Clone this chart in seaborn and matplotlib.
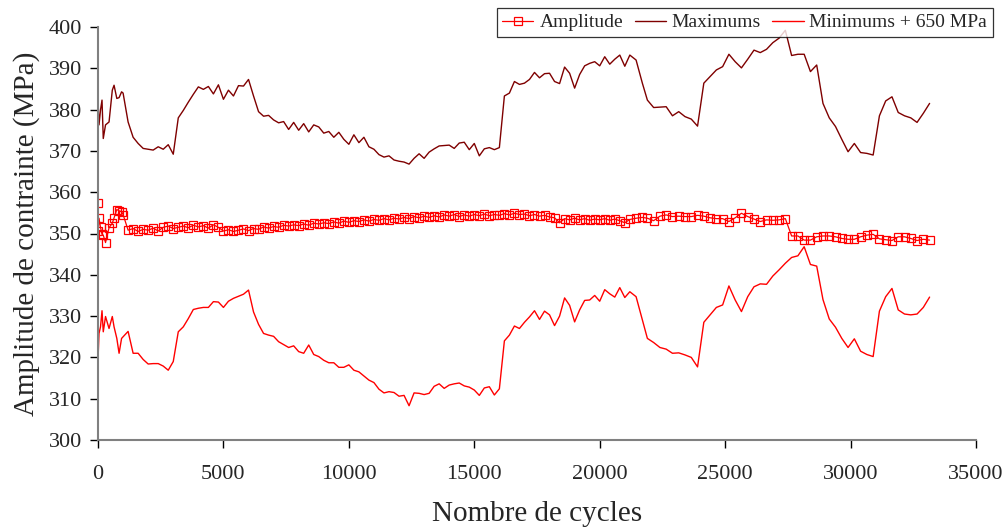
import matplotlib

matplotlib.use("Agg")

import matplotlib.pyplot as plt
import pandas as pd
import seaborn as sns


# nombre de cycles (points denses au debut, puis tous les 200 cycles, puis tous les 250)
CYCLES = [
    0, 10, 40, 100, 160, 210, 300, 440, 570, 640, 750, 840, 940,
    1000, 1200, 1400, 1600, 1800, 2000, 2200, 2400, 2600, 2800,
    3000, 3200, 3400, 3600, 3800, 4000, 4200, 4400, 4600, 4800,
    5000, 5200, 5400, 5600, 5800, 6000, 6200, 6400, 6600, 6800,
    7000, 7200, 7400, 7600, 7800, 8000, 8200, 8400, 8600, 8800,
    9000, 9200, 9400, 9600, 9800, 10000, 10200, 10400, 10600, 10800,
    11000, 11200, 11400, 11600, 11800, 12000, 12200, 12400, 12600, 12800,
    13000, 13200, 13400, 13600, 13800, 14000, 14200, 14400, 14600, 14800,
    15000, 15200, 15400, 15600, 15800, 16000, 16200, 16400, 16600, 16800,
    17000, 17200, 17400, 17600, 17800, 18000, 18200, 18400, 18600, 18800,
    19000, 19200, 19400, 19600, 19800, 20000, 20200, 20400, 20600, 20800,
    21000, 21200, 21450, 21700, 21900, 22150, 22400, 22650, 22900, 23150,
    23400, 23650, 23900, 24150, 24400, 24650, 24900, 25150, 25400, 25650,
    25900, 26150, 26400, 26650, 26900, 27150, 27400, 27650, 27900, 28150,
    28400, 28650, 28900, 29150, 29400, 29650, 29900, 30150, 30400, 30650,
    30900, 31150, 31400, 31650, 31900, 32150, 32400, 32650, 32900, 33150,
]

AMPLITUDE = [
    357.3, 350.5, 353.7, 351.5, 349.8, 349.6, 347.8, 351.4, 352.5, 353.8, 355.8, 355.5, 355.3,
    354.6, 350.8, 351.2, 350.5, 351.0, 350.8, 351.3, 350.6, 351.5, 351.8,
    351.2, 351.5, 351.8, 351.4, 352.0, 351.6, 351.9, 351.3, 352.1, 351.5,
    350.6, 350.9, 350.5, 350.8, 351.1, 350.7, 351.2, 351.0, 351.6, 351.3,
    351.7, 351.5, 352.0, 351.8, 352.1, 351.9, 352.3, 352.0, 352.5, 352.3,
    352.6, 352.4, 352.8, 352.5, 353.0, 352.7, 353.1, 352.9, 353.3, 353.0,
    353.4, 353.2, 353.6, 353.3, 353.7, 353.5, 353.9, 353.6, 354.1, 353.8,
    354.2, 353.9, 354.3, 354.0, 354.5, 354.2, 354.6, 354.1, 354.5, 354.2,
    354.6, 354.3, 354.7, 354.3, 354.6, 354.4, 354.8, 354.5, 354.9, 354.6,
    354.7, 354.3, 354.6, 354.2, 354.4, 354.0, 353.8, 352.6, 353.6, 353.3,
    353.7, 353.3, 353.6, 353.2, 353.5, 353.3, 353.6, 353.2, 353.5, 353.1,
    352.6, 353.4, 353.7, 353.9, 353.7, 353.1, 354.2, 354.5, 354.1, 354.2,
    354.1, 354.1, 354.4, 354.2, 353.8, 353.6, 353.6, 352.9, 353.8, 354.9,
    354.1, 353.5, 352.9, 353.3, 353.2, 353.3, 353.6, 349.4, 349.4, 348.4,
    348.4, 349.2, 349.4, 349.4, 349.2, 348.8, 348.6, 348.6, 349.2, 349.6,
    349.8, 348.7, 348.5, 348.3, 349.2, 349.2, 348.8, 348.3, 348.6, 348.4,
]

MAXIMUMS = [
    358.0, 381.0, 376.3, 379.9, 382.3, 373.0, 376.3, 377.0, 384.7, 385.9, 382.7, 382.9, 384.3,
    384.0, 377.0, 373.3, 371.8, 370.6, 370.4, 370.2, 371.0, 370.4, 371.5,
    369.2, 378.0, 379.8, 381.8, 383.7, 385.5, 384.9, 385.6, 383.8, 386.0,
    382.5, 384.7, 383.3, 385.8, 385.7, 387.3, 383.3, 379.5, 378.4, 378.6,
    377.5, 376.8, 377.1, 375.2, 376.9, 375.0, 376.6, 374.6, 376.3, 375.8,
    374.3, 374.7, 373.3, 374.5, 372.8, 371.6, 373.9, 372.0, 373.3, 371.0,
    370.4, 369.1, 368.5, 368.8, 367.8, 367.5, 367.3, 366.8, 368.2, 369.3,
    368.2, 369.7, 370.5, 371.2, 371.3, 371.4, 370.6, 371.9, 372.1, 370.3,
    371.8, 368.8, 370.5, 370.8, 370.3, 370.8, 383.3, 384.0, 386.8, 386.1,
    386.4, 387.3, 389.0, 387.7, 388.7, 388.8, 386.8, 386.3, 390.3, 388.8,
    385.2, 388.5, 390.6, 391.2, 391.6, 390.6, 392.8, 391.0, 392.2, 393.2,
    390.5, 393.2, 392.0, 386.4, 382.3, 380.5, 380.6, 380.7, 378.5, 379.5,
    378.3, 377.7, 376.0, 386.4, 388.0, 389.6, 390.4, 393.4, 391.6, 390.1,
    392.2, 394.4, 393.8, 394.6, 396.2, 397.3, 399.2, 393.1, 393.4, 393.4,
    389.2, 390.8, 381.5, 378.0, 375.9, 372.8, 369.8, 371.8, 369.6, 369.4,
    369.0, 378.5, 382.1, 383.1, 379.3, 378.5, 378.0, 376.9, 379.1, 381.5,
]

MINIMUMS_650 = [
    309.5, 321.0, 325.8, 327.4, 331.3, 326.2, 329.9, 327.0, 329.9, 327.4, 324.6, 321.0, 324.6,
    325.0, 326.3, 321.0, 321.0, 319.5, 318.4, 318.5, 318.5, 317.9, 316.9,
    319.0, 326.2, 327.4, 329.4, 331.6, 331.9, 332.1, 332.1, 333.5, 333.4,
    332.1, 333.6, 334.3, 334.8, 335.3, 336.3, 331.0, 328.0, 325.8, 325.4,
    325.1, 323.8, 323.1, 322.4, 322.8, 321.4, 321.0, 323.0, 320.7, 320.2,
    319.3, 318.7, 318.7, 317.6, 317.6, 318.2, 316.9, 316.5, 315.5, 314.5,
    313.9, 312.3, 311.4, 311.7, 311.5, 310.6, 310.8, 308.3, 311.4, 311.3,
    311.0, 311.3, 313.0, 313.6, 312.5, 313.3, 313.6, 313.8, 313.1, 312.8,
    312.1, 310.8, 312.6, 312.9, 310.9, 312.4, 324.0, 325.4, 327.6, 327.0,
    328.5, 329.8, 331.3, 329.2, 331.2, 330.3, 327.7, 330.0, 334.4, 332.6,
    328.6, 331.5, 333.8, 333.9, 335.0, 333.6, 336.4, 335.4, 334.6, 336.9,
    334.5, 335.9, 334.7, 329.1, 324.6, 323.6, 322.4, 322.0, 321.0, 321.1,
    320.6, 320.0, 317.7, 328.5, 330.3, 332.1, 332.7, 337.3, 333.9, 331.1,
    334.7, 337.1, 337.8, 337.7, 339.7, 341.2, 342.8, 344.2, 344.6, 346.8,
    342.5, 342.1, 334.0, 329.3, 327.3, 324.6, 322.4, 324.5, 321.5, 320.7,
    320.2, 331.2, 334.7, 336.7, 331.5, 330.5, 330.3, 330.5, 332.1, 334.6,
]

X_TICKS = [0, 5000, 10000, 15000, 20000, 25000, 30000, 35000]
Y_TICKS = [300, 310, 320, 330, 340, 350, 360, 370, 380, 390, 400]

RED = "#ff0000"
DARK_RED = "#7f0000"
GREY = "#808080"


def main() -> None:
    sns.set_theme(style="white")
    plt.rcParams["font.family"] = ["Liberation Serif", "DejaVu Serif"]

    df = pd.DataFrame(
        {
            "cycles": CYCLES,
            "amplitude": AMPLITUDE,
            "maximums": MAXIMUMS,
            "minimums": MINIMUMS_650,
        }
    )

    fig = plt.figure(figsize=(10.06, 5.28), dpi=100)
    ax = fig.add_axes([98 / 1006, 1 - 440 / 528, 878 / 1006, 413 / 528])

    sns.lineplot(
        data=df, x="cycles", y="amplitude", ax=ax, estimator=None, sort=False,
        color=RED, linewidth=0.9, marker="s", markersize=6,
        markerfacecolor="none", markeredgecolor=RED, markeredgewidth=0.9,
        label="Amplitude",
    )
    sns.lineplot(
        data=df, x="cycles", y="maximums", ax=ax, estimator=None, sort=False,
        color=DARK_RED, linewidth=1.0, label="Maximums",
    )
    sns.lineplot(
        data=df, x="cycles", y="minimums", ax=ax, estimator=None, sort=False,
        color=RED, linewidth=1.0, label="Minimums + 650 MPa",
    )

    ax.set_xlim(0, 35000)
    ax.set_ylim(300, 400)
    ax.set_xticks(X_TICKS)
    ax.set_yticks(Y_TICKS)
    ax.tick_params(axis="x", direction="out", length=5.5, width=1, color="black",
                   labelsize=16, pad=12.5, bottom=True)
    ax.tick_params(axis="y", direction="out", length=5.5, width=1, color="black",
                   labelsize=16, pad=6, left=True)

    for side in ["top", "right"]:
        ax.spines[side].set_visible(False)
    for side in ["left", "bottom"]:
        ax.spines[side].set_color(GREY)
        ax.spines[side].set_linewidth(1.5)

    ax.set_xlabel("Nombre de cycles", fontsize=21, labelpad=12)
    ax.set_ylabel("Amplitude de contrainte (MPa)", fontsize=21, labelpad=6)
    ax.grid(False)

    handles, labels = ax.get_legend_handles_labels()
    ax.get_legend().remove()
    leg = fig.legend(
        handles, labels, loc="upper right", bbox_to_anchor=(993 / 1006, 1 - 8 / 528),
        ncol=3, fontsize=14, frameon=True, fancybox=False, edgecolor="black",
        borderpad=0.3, handlelength=1.6, handletextpad=0.3, columnspacing=0.6,
        borderaxespad=0,
    )
    leg.get_frame().set_linewidth(0.9)

    fig.savefig("out.png", dpi=100)
    plt.close(fig)


if __name__ == "__main__":
    main()
